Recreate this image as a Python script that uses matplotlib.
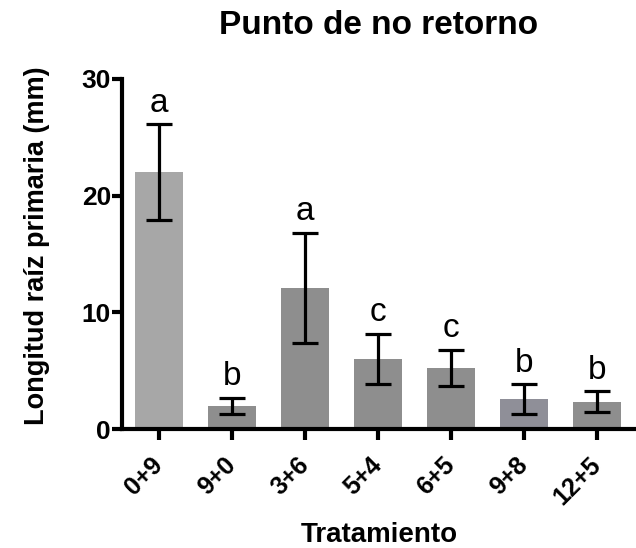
import matplotlib
matplotlib.use('Agg')
import matplotlib.pyplot as plt
import numpy as np

plt.rcParams['font.family'] = ['Liberation Sans', 'DejaVu Sans']

tratamientos = ['0+9', '9+0', '3+6', '5+4', '6+5', '9+8', '12+5']
media = [22.0, 2.0, 12.1, 6.0, 5.25, 2.55, 2.35]
error = [4.1, 0.7, 4.7, 2.15, 1.55, 1.3, 0.9]
letras = ['a', 'b', 'a', 'c', 'c', 'b', 'b']
colores = ['#a7a7a7', '#8e8e8e', '#8e8e8e', '#8e8e8e', '#8e8e8e', '#8f8f98', '#8e8e8e']

fig = plt.figure(figsize=(6.36, 5.48), dpi=100)
ax = fig.add_axes([0.192, 0.217, 0.808, 0.639])

x = np.arange(len(tratamientos))
ax.bar(x, media, width=0.66, color=colores, zorder=1)
ax.errorbar(x, media, yerr=error, fmt='none', ecolor='black',
            elinewidth=2.3, capsize=9.5, capthick=2.3, zorder=2)

# letras de significancia sobre cada barra de error
for xi, m, e, l in zip(x, media, error, letras):
    ax.annotate(l, (xi, m + e), xytext=(0, 4), textcoords='offset points',
                ha='center', va='bottom', fontsize=24)

ax.set_xlim(-0.51, 6.53)
ax.set_ylim(0, 30)
ax.set_yticks([0, 10, 20, 30])
ax.set_xticks(x)
ax.set_xticklabels(tratamientos, rotation=45, ha='right', va='center',
                   rotation_mode='anchor', fontsize=18, fontweight='bold')
for t in ax.get_yticklabels():
    t.set_fontsize(19)
    t.set_fontweight('bold')

for s in ['top', 'right']:
    ax.spines[s].set_visible(False)
for s in ['left', 'bottom']:
    ax.spines[s].set_linewidth(3)
ax.spines['bottom'].set_clip_on(False)
ax.tick_params(axis='y', width=3, length=7, pad=1)
ax.tick_params(axis='x', width=3, length=8, pad=15)

ax.set_ylabel('Longitud raíz primaria (mm)', fontsize=19.5, fontweight='bold')
ax.yaxis.set_label_coords(-0.14, 0.523)
ax.set_xlabel('Tratamiento', fontsize=20, fontweight='bold', labelpad=9)
ax.set_title('Punto de no retorno', fontsize=24, fontweight='bold', pad=32)

fig.savefig('out.png', dpi=100)
